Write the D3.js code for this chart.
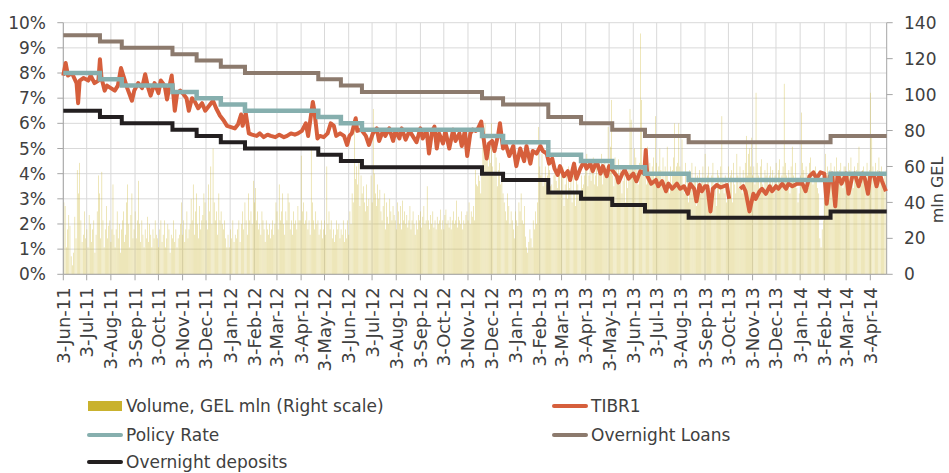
<!DOCTYPE html>
<html><head><meta charset="utf-8">
<script src="https://cdn.jsdelivr.net/npm/d3@7"></script>
<style>body{margin:0;background:#fff}svg{display:block;font-family:"DejaVu Sans",sans-serif}</style>
</head><body><svg id="c" width="949" height="473"></svg>
<script>
const xTickLabels = ["3-Jun-11","3-Jul-11","3-Aug-11","3-Sep-11","3-Oct-11","3-Nov-11","3-Dec-11",
"3-Jan-12","3-Feb-12","3-Mar-12","3-Apr-12","3-May-12","3-Jun-12","3-Jul-12","3-Aug-12","3-Sep-12","3-Oct-12","3-Nov-12","3-Dec-12",
"3-Jan-13","3-Feb-13","3-Mar-13","3-Apr-13","3-May-13","3-Jun-13","3-Jul-13","3-Aug-13","3-Sep-13","3-Oct-13","3-Nov-13","3-Dec-13",
"3-Jan-14","3-Feb-14","3-Mar-14","3-Apr-14"];
const leftTicks = [0,1,2,3,4,5,6,7,8,9,10];
const rightTicks = [0,20,40,60,80,100,120,140];
const dateStart = "2011-06-03", dateEnd = "2014-04-24";

const policyDates = ["2011-06-03","2011-07-20","2011-08-17","2011-10-21","2011-11-21","2011-12-22","2012-01-22","2012-04-25","2012-05-24","2012-06-20","2012-11-21","2012-12-18","2013-02-14","2013-03-28","2013-05-07","2013-06-18","2013-08-13","2014-02-11","2014-04-24"];
const policyRate = [8,7.75,7.5,7.25,7,6.75,6.5,6.25,6,5.75,5.5,5.25,4.75,4.5,4.25,4,3.75,4,4];
const overnightLoans = [9.5,9.25,9,8.75,8.5,8.25,8,7.75,7.5,7.25,7,6.75,6.25,6,5.75,5.5,5.25,5.5,5.5];
const overnightDeposits = [6.5,6.25,6,5.75,5.5,5.25,5,4.75,4.5,4.25,4,3.75,3.25,3,2.75,2.5,2.25,2.5,2.5];

const tibr1 = [
["2011-06-03",7.9],["2011-06-06",8.4],["2011-06-09",7.9],["2011-06-14",8.0],["2011-06-20",7.6],["2011-06-22",6.8],["2011-06-24",7.7],["2011-06-29",7.8],
["2011-07-05",7.7],["2011-07-08",7.9],["2011-07-13",7.6],["2011-07-18",7.7],["2011-07-20",8.55],["2011-07-22",7.8],["2011-07-26",7.3],["2011-07-29",7.5],
["2011-08-03",7.4],["2011-08-08",7.3],["2011-08-12",7.5],["2011-08-16",8.2],["2011-08-19",7.9],["2011-08-24",7.4],["2011-08-30",6.9],
["2011-09-02",7.3],["2011-09-07",7.6],["2011-09-12",7.4],["2011-09-16",7.95],["2011-09-20",7.4],["2011-09-23",7.1],["2011-09-28",7.6],
["2011-10-03",7.2],["2011-10-06",7.7],["2011-10-11",7.5],["2011-10-14",6.95],["2011-10-18",7.6],["2011-10-20",7.9],["2011-10-24",6.5],["2011-10-27",7.2],["2011-10-31",7.3],
["2011-11-03",7.2],["2011-11-08",7.0],["2011-11-11",6.5],["2011-11-15",7.0],["2011-11-18",6.9],["2011-11-23",6.6],["2011-11-28",6.8],
["2011-12-02",6.5],["2011-12-07",6.7],["2011-12-12",6.9],["2011-12-16",6.6],["2011-12-21",6.3],["2011-12-26",6.1],["2011-12-30",5.9],
["2012-01-04",5.85],["2012-01-09",5.8],["2012-01-13",5.95],["2012-01-17",6.35],["2012-01-19",5.9],["2012-01-23",6.4],["2012-01-27",5.6],["2012-01-31",5.55],
["2012-02-06",5.5],["2012-02-10",5.6],["2012-02-15",5.45],["2012-02-20",5.55],["2012-02-24",5.5],
["2012-03-01",5.45],["2012-03-06",5.55],["2012-03-12",5.45],["2012-03-16",5.5],["2012-03-21",5.6],["2012-03-26",5.55],["2012-03-30",5.6],
["2012-04-04",5.7],["2012-04-09",6.0],["2012-04-12",5.5],["2012-04-18",6.85],["2012-04-20",6.5],["2012-04-24",5.4],["2012-04-27",5.5],
["2012-05-02",5.45],["2012-05-07",5.6],["2012-05-11",6.0],["2012-05-15",5.9],["2012-05-18",5.5],["2012-05-23",5.6],["2012-05-28",5.5],
["2012-06-01",5.14],["2012-06-04",5.5],["2012-06-07",5.6],["2012-06-12",6.2],["2012-06-14",5.7],["2012-06-19",5.75],["2012-06-25",5.5],["2012-06-29",5.14],
["2012-07-04",5.6],["2012-07-09",5.8],["2012-07-12",5.3],["2012-07-17",5.7],["2012-07-20",5.5],["2012-07-25",5.8],["2012-07-30",5.3],
["2012-08-02",5.7],["2012-08-07",5.4],["2012-08-10",5.8],["2012-08-15",5.35],["2012-08-20",5.7],["2012-08-24",5.5],["2012-08-29",5.25],
["2012-09-03",5.8],["2012-09-06",5.4],["2012-09-11",5.7],["2012-09-14",4.8],["2012-09-18",5.7],["2012-09-21",5.87],["2012-09-24",5.0],["2012-09-27",5.6],
["2012-10-02",5.2],["2012-10-05",5.7],["2012-10-10",5.0],["2012-10-15",5.75],["2012-10-18",5.3],["2012-10-23",5.6],["2012-10-26",5.1],["2012-10-30",5.7],
["2012-11-02",4.7],["2012-11-06",5.6],["2012-11-09",5.75],["2012-11-13",5.7],["2012-11-16",5.8],["2012-11-20",6.07],["2012-11-23",5.4],["2012-11-27",4.6],["2012-11-30",5.2],
["2012-12-04",5.3],["2012-12-07",4.9],["2012-12-12",5.6],["2012-12-14",6.0],["2012-12-18",5.0],["2012-12-21",5.2],["2012-12-26",4.7],["2012-12-31",5.1],
["2013-01-04",4.3],["2013-01-09",5.0],["2013-01-14",4.5],["2013-01-17",5.1],["2013-01-22",4.4],["2013-01-25",4.9],["2013-01-30",4.8],
["2013-02-04",5.1],["2013-02-07",4.9],["2013-02-12",4.8],["2013-02-15",4.4],["2013-02-19",4.6],["2013-02-22",4.2],["2013-02-26",3.95],
["2013-03-01",4.3],["2013-03-06",3.9],["2013-03-11",4.1],["2013-03-14",3.75],["2013-03-19",4.4],["2013-03-22",3.8],["2013-03-27",4.2],
["2013-04-01",4.5],["2013-04-04",4.2],["2013-04-09",4.4],["2013-04-12",4.1],["2013-04-17",4.5],["2013-04-22",4.0],["2013-04-25",4.3],["2013-04-30",3.9],
["2013-05-03",4.3],["2013-05-08",4.1],["2013-05-13",3.9],["2013-05-15",3.65],["2013-05-20",4.0],["2013-05-23",4.15],["2013-05-28",3.8],
["2013-06-03",4.0],["2013-06-07",3.7],["2013-06-12",4.1],["2013-06-17",4.0],["2013-06-19",4.94],["2013-06-21",3.9],["2013-06-26",3.6],
["2013-07-02",3.75],["2013-07-05",3.5],["2013-07-10",3.7],["2013-07-15",3.3],["2013-07-18",3.6],["2013-07-23",3.4],["2013-07-29",3.6],
["2013-08-02",3.4],["2013-08-07",3.5],["2013-08-12",3.2],["2013-08-15",3.6],["2013-08-20",3.4],["2013-08-23",2.9],["2013-08-27",3.55],["2013-08-30",3.3],
["2013-09-03",3.5],["2013-09-06",3.5],["2013-09-10",2.5],["2013-09-13",3.4],["2013-09-18",3.55],["2013-09-23",3.45],["2013-09-27",3.5],
["2013-10-01",3.55],["2013-10-04",3.0],["2013-10-08",null],["2013-10-18",3.4],["2013-10-22",3.5],["2013-10-25",3.3],["2013-10-30",2.5],
["2013-11-04",3.2],["2013-11-07",3.0],["2013-11-12",3.3],["2013-11-15",3.4],["2013-11-20",3.2],["2013-11-25",3.5],["2013-11-28",3.3],
["2013-12-03",3.5],["2013-12-06",3.4],["2013-12-11",3.6],["2013-12-16",3.4],["2013-12-19",3.6],["2013-12-24",3.5],["2013-12-30",3.6],
["2014-01-06",3.6],["2014-01-10",3.3],["2014-01-15",3.9],["2014-01-20",4.05],["2014-01-24",3.8],["2014-01-29",4.05],
["2014-02-03",4.0],["2014-02-06",2.8],["2014-02-10",3.9],["2014-02-13",4.0],["2014-02-17",2.7],["2014-02-20",4.0],["2014-02-25",3.6],
["2014-03-03",4.0],["2014-03-06",3.2],["2014-03-11",3.9],["2014-03-14",4.0],["2014-03-19",3.5],["2014-03-24",4.0],["2014-03-27",3.8],["2014-03-31",3.2],
["2014-04-03",3.95],["2014-04-08",3.9],["2014-04-11",3.5],["2014-04-15",4.0],["2014-04-18",3.7],["2014-04-23",3.3]
];

// Volume, GEL mln, per calendar month starting Jun 2011 (bars spread through each month)
const volume = [
[40,38,15,25,33,27,10,5,12,32,20,58,45,62,30,18,22,35],
[20,25,15,33,28,18,25,30,12,22,35,55,45,20,57,30,15,25,38,20,27],
[30,18,25,50,22,15,25,35,20,28,12,25,30,35,18,22,40,50,28,15,33,45,20],
[25,35,20,30,52,28,18,30,22,15,25,20,32,18,28,22,15,25,20,30,22],
[20,15,25,30,18,22,30,15,20,28,25,12,22,20,30,18,25,15,20,22,28],
[40,22,30,18,25,35,20,25,28,42,30,50,22,35,45,28,20,38,25,30,33,45],
[40,30,25,50,35,60,28,70,40,30,35,22,45,30,35,28,25,30,20,15,22],
[15,25,20,30,18,22,20,25,30,18,28,35,25,40,30,22,45,30,35,28],
[52,40,48,30,35,25,28,22,35,30,25,18,30,25,22,28,20,25,30,22,28],
[40,35,25,50,30,35,45,28,22,35,30,45,40,25,30,22,35,28,30,25,38,30],
[30,66,35,40,28,30,35,25,30,22,71,40,30,25,35,28,30,22,25,30,20],
[25,30,22,60,28,35,25,30,20,25,18,22,30,25,28,20,25,22,30,18,25,20],
[30,22,35,28,45,40,86,53,60,50,64,38,55,45,49,40,35,50,38,42,30],
[55,40,92,56,45,38,50,42,47,35,30,38,45,25,40,32,28,42,35,30,38,33],
[30,25,40,35,28,38,25,41,30,35,28,33,26,30,38,25,30,35,28,22,30,25,33],
[30,35,26,32,38,28,30,49,30,25,33,28,35,26,30,25,32,28,30,36,25],
[30,25,33,36,28,30,26,32,25,30,35,28,30,41,26,32,30,28,35,25,30,28,33],
[35,30,40,28,35,32,38,30,58,50,49,55,52,45,60,82,70,84,65,72,60,68],
[62,84,60,55,70,65,49,58,62,50,55,45,40,35,30,45,38,28,35,30,25],
[20,35,30,27,40,35,45,30,28,38,21,15,12,18,25,20,15,30,25,35,28,40],
[82,60,55,67,49,52,60,50,55,62,58,49,50,45,55,60,52,48,58,60],
[45,55,60,38,50,55,42,60,48,52,40,55,45,38,60,50,45,42,55,48,50],
[55,60,67,49,55,60,52,58,65,50,55,62,49,58,60,55,67,50,58,62,55,60],
[82,60,71,97,55,49,65,60,55,64,50,58,45,52,60,40,55,48,58,92,86],
[60,55,70,65,58,50,62,134,97,55,60,68,50,71,58,62,55,60,65,52],
[88,62,55,60,70,58,50,65,48,60,55,71,52,45,60,50,58,65,84,55,60,62,84],
[60,55,75,50,45,62,48,55,40,58,50,62,45,52,60,38,55,48,58,45,52,60],
[50,67,45,55,60,48,40,55,62,45,50,38,58,55,45,60,88,52,45,55,40],
[50,60,45,55,58,40,62,50,45,67,55,48,60,52,45,58,50,62,77,55,67,70,60],
[76,55,60,50,101,62,55,48,60,64,50,45,58,55,62,48,55,60,50,58,45],
[55,62,50,58,64,48,55,60,106,62,55,50,58,45,60,71,55,50,62,48,40],
[45,55,90,62,58,50,60,55,48,62,65,55,50,58,60,52,48,45,20,15,25],
[30,45,67,55,60,50,58,62,55,48,60,52,65,55,50,58,62,55,48,60],
[60,55,50,62,58,65,55,48,60,52,58,62,71,55,50,58,60,55,48,62,55],
[58,101,77,60,55,62,50,58,65,55,60,52,48,55,58]
];

const legendItems = [
  {name:"Volume, GEL mln (Right scale)", type:"rect", color:"#C9B22E", col:0, row:0},
  {name:"TIBR1", type:"line", color:"#D65F3C", col:1, row:0},
  {name:"Policy Rate", type:"line", color:"#86AFAE", col:0, row:1},
  {name:"Overnight Loans", type:"line", color:"#8C7A6D", col:1, row:1},
  {name:"Overnight deposits", type:"line", color:"#231F20", col:0, row:2}
];

const parse = d3.timeParse("%Y-%m-%d");
const parseTick = d3.timeParse("%d-%b-%y");
const svg = d3.select("#c");
const L = 63.3, R = 886.7, T = 22.7, B = 274.3;
const x = d3.scaleTime().domain([parse(dateStart), parse(dateEnd)]).range([L, R]);
const yL = d3.scaleLinear().domain([0,10]).range([B, T]);
const yR = d3.scaleLinear().domain([0,140]).range([B, T]);
const tickDates = xTickLabels.map(parseTick);

// grid
const grid = svg.append("g");
grid.selectAll(".h").data(leftTicks).join("line")
  .attr("x1", L).attr("x2", R).attr("y1", d=>yL(d)).attr("y2", d=>yL(d))
  .attr("stroke", "#d9d9d9").attr("stroke-width", 1);
grid.selectAll(".v").data(tickDates).join("line")
  .attr("x1", d=>x(d)).attr("x2", d=>x(d)).attr("y1", T).attr("y2", B)
  .attr("stroke", "#d9d9d9").attr("stroke-width", 1);

// volume bars
const bars = [];
const m0 = new Date(2011, 5, 1);
volume.forEach((vals, i) => {
  const ms = d3.timeMonth.offset(m0, i), me = d3.timeMonth.offset(m0, i+1);
  const s = Math.max(+ms, +parse(dateStart)), e = Math.min(+me, +parse(dateEnd));
  vals.forEach((v, j) => bars.push({d: new Date(s + (j+0.5)*(e-s)/vals.length), v}));
});
svg.append("g").selectAll("rect").data(bars).join("rect")
  .attr("x", d=>x(d.d)-0.3).attr("width", 0.6)
  .attr("y", d=>yR(d.v)).attr("height", d=>yR(0)-yR(d.v))
  .attr("fill", "#cfba3e").attr("opacity", 0.6);

// axes
const axG = svg.append("g").attr("stroke", "#a6a6a6").attr("stroke-width", 1);
axG.append("line").attr("x1", L).attr("x2", L).attr("y1", T).attr("y2", B);
axG.append("line").attr("x1", R).attr("x2", R).attr("y1", T).attr("y2", B);
axG.append("line").attr("x1", L).attr("x2", R).attr("y1", B).attr("y2", B);
axG.selectAll(".lt").data(leftTicks).join("line").attr("x1", L-6).attr("x2", L).attr("y1", d=>yL(d)).attr("y2", d=>yL(d));
axG.selectAll(".rt").data(rightTicks).join("line").attr("x1", R).attr("x2", R+6).attr("y1", d=>yR(d)).attr("y2", d=>yR(d));
axG.selectAll(".bt").data(tickDates).join("line").attr("x1", d=>x(d)).attr("x2", d=>x(d)).attr("y1", B).attr("y2", B+6);

const txt = svg.append("g").attr("fill", "#404040").attr("font-size", 17);
txt.selectAll(".ll").data(leftTicks).join("text")
  .attr("x", 46).attr("y", d=>yL(d)).attr("dy", "0.36em").attr("text-anchor", "end")
  .text(d=>d+"%");
txt.selectAll(".rl").data(rightTicks).join("text")
  .attr("x", 904).attr("y", d=>yR(d)).attr("dy", "0.36em").attr("text-anchor", "start")
  .text(d=>d);
txt.selectAll(".xl").data(xTickLabels).join("text")
  .attr("transform", (d,i)=>`translate(${x(tickDates[i])},${B+13}) rotate(-90)`)
  .attr("dy", "0.36em").attr("text-anchor", "end").attr("font-size", 18)
  .text(d=>d);
txt.append("text").attr("transform", `translate(943,190) rotate(-90)`)
  .attr("text-anchor", "middle").attr("font-size", 16).text("mln GEL");

// step lines
const stepLine = d3.line().x(d=>x(d[0])).y(d=>yL(d[1])).curve(d3.curveStepAfter);
const pd = policyDates.map(parse);
[[overnightLoans,"#8C7A6D",4],[overnightDeposits,"#231F20",4]].forEach(([vals,c,w])=>{
  svg.append("path").attr("d", stepLine(pd.map((d,i)=>[d, vals[i]])))
    .attr("fill","none").attr("stroke",c).attr("stroke-width",w);
});
// TIBR1
const tl = d3.line().defined(d=>d[1]!=null).x(d=>x(parse(d[0]))).y(d=>yL(d[1]));
svg.append("path").attr("d", tl(tibr1)).attr("fill","none").attr("stroke","#D65F3C")
  .attr("stroke-width",4).attr("stroke-linejoin","round");
svg.append("path").attr("d", stepLine(pd.map((d,i)=>[d, policyRate[i]])))
  .attr("fill","none").attr("stroke","#86AFAE").attr("stroke-width",4.5);

// legend
const colX = [88, 553], rowY = [406, 435, 462];
const lg = svg.append("g");
legendItems.forEach(it=>{
  const x0 = colX[it.col], y0 = rowY[it.row];
  if (it.type === "rect") lg.append("rect").attr("x", x0).attr("y", y0-5).attr("width", 34).attr("height", 10).attr("fill", it.color);
  else lg.append("line").attr("x1", x0+1).attr("x2", x0+33).attr("y1", y0).attr("y2", y0)
    .attr("stroke", it.color).attr("stroke-width", 4).attr("stroke-linecap","round");
  lg.append("text").attr("x", x0+38).attr("y", y0).attr("dy","0.36em").attr("font-size",17)
    .attr("fill","#404040").text(it.name);
});
</script></body></html>
